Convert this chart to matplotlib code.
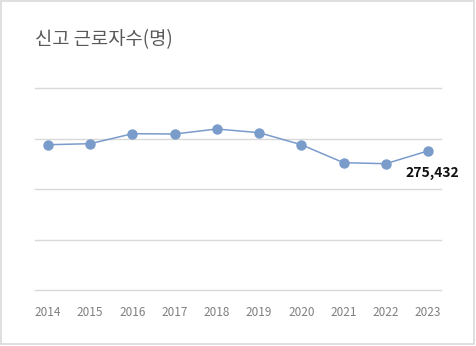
import matplotlib.pyplot as plt
from matplotlib.patches import Rectangle

plt.rcParams['font.family'] = ['Noto Sans CJK KR', 'DejaVu Sans']

# data
years = ['2014', '2015', '2016', '2017', '2018', '2019', '2020', '2021', '2022', '2023']
workers = [287700, 289700, 309500, 308900, 318800, 311500, 287700, 252100, 250100, 275432]
title = '신고 근로자수(명)'

W, H = 476, 346
fig = plt.figure(figsize=(W / 100, H / 100), dpi=100)

# axes box in pixels: x 35..441, y 88..290
ax = fig.add_axes([35 / W, 1 - 290 / H, (441 - 35) / W, (290 - 88) / H])

x = list(range(len(years)))
ax.plot(x, workers, color='#7A9CCB', linewidth=1.1, marker='o',
        markersize=6.5, markerfacecolor='#7A9CCB', markeredgecolor='#7A9CCB', zorder=3)

ax.set_ylim(0, 400000)
ax.set_yticks([0, 100000, 200000, 300000, 400000])
ax.set_xlim(-0.308, 9.308)
ax.set_xticks(x)
ax.set_xticklabels(years)
ax.grid(axis='y', color='#D9D9D9', linewidth=1)
for gl in ax.get_ygridlines():
    gl.set_clip_on(False)
ax.set_axisbelow(True)
for s in ax.spines.values():
    s.set_visible(False)
ax.tick_params(axis='y', left=False, labelleft=False)
ax.tick_params(axis='x', bottom=False, labelsize=8.5, labelcolor='#7F7F7F', pad=8)

# value label on last point
ax.annotate(f'{workers[-1]:,}', xy=(x[-1], workers[-1]), xytext=(3, -16),
            textcoords='offset points', ha='center', va='center',
            fontsize=10, fontweight='bold', color='#111111')

fig.text(35 / W, 1 - 40 / H, title, fontsize=13.5, color='#595959',
         ha='left', va='center')

# light frame around the chart
fig.patches.append(Rectangle((0.5 / W, 1 - 343.5 / H), 473.5 / W, 343 / H,
                             transform=fig.transFigure, fill=False,
                             edgecolor='#D9D9D9', linewidth=1.2))

fig.savefig('out.png', dpi=100)
